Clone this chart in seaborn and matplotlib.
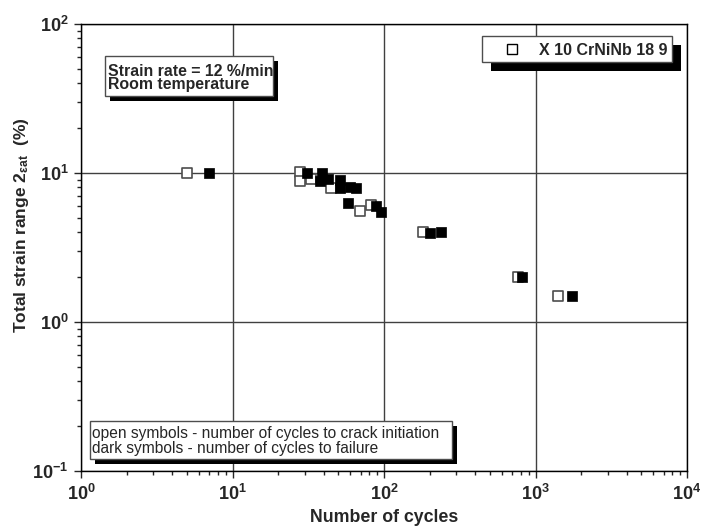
import matplotlib
matplotlib.use("Agg")
import matplotlib.pyplot as plt
from matplotlib.patches import Rectangle
from matplotlib.lines import Line2D
from matplotlib.ticker import LogLocator, FixedLocator, FixedFormatter
import pandas as pd
import seaborn as sns

sns.set_style("ticks")
plt.rcParams["font.family"] = ["Liberation Sans", "DejaVu Sans"]
plt.rcParams["mathtext.fontset"] = "custom"
plt.rcParams["mathtext.rm"] = "Liberation Sans"
plt.rcParams["mathtext.bf"] = "Liberation Sans:bold"
plt.rcParams["mathtext.it"] = "Liberation Sans:italic"

# cycles to crack initiation (open symbols)
cycles_open = [5, 28, 28, 33, 45, 69, 82, 181, 766, 1408]
strain_open = [10.0, 10.2, 8.8, 9.1, 7.9, 5.6, 6.1, 4.0, 2.0, 1.5]

# cycles to failure (dark symbols)
cycles_dark = [7, 31, 38, 39, 43, 51, 51, 60, 65, 58, 88, 95, 201, 238, 815, 1741]
strain_dark = [10.0, 10.0, 8.8, 10.0, 9.1, 9.0, 7.9, 8.0, 7.9, 6.3, 6.0, 5.5,
               3.95, 4.0, 2.0, 1.5]

decades = [0.1, 1, 10, 100]
x_decades = [1, 10, 100, 1000, 10000]
y_tick_labels = [r"$\mathbf{10^{-1}}$", r"$\mathbf{10^{0}}$", r"$\mathbf{10^{1}}$", r"$\mathbf{10^{2}}$"]
x_tick_labels = [r"$\mathbf{10^{0}}$", r"$\mathbf{10^{1}}$", r"$\mathbf{10^{2}}$",
                 r"$\mathbf{10^{3}}$", r"$\mathbf{10^{4}}$"]

df = pd.concat([
    pd.DataFrame({"cycles": cycles_open, "strain": strain_open, "kind": "open"}),
    pd.DataFrame({"cycles": cycles_dark, "strain": strain_dark, "kind": "dark"}),
])

W, H = 704, 529
fig = plt.figure(figsize=(W / 100, H / 100), dpi=100)
ax = fig.add_axes([81 / W, 1 - 471 / H, (687 - 81) / W, (471 - 24) / H])


def fx(px):
    return px / W


def fy(py):
    return 1 - py / H


ax.set_xscale("log")
ax.set_yscale("log")
ax.set_xlim(1, 10000)
ax.set_ylim(0.1, 100)

ax.grid(True, which="major", color="0.25", lw=1)
ax.set_axisbelow(True)

sns.scatterplot(data=df[df["kind"] == "open"], x="cycles", y="strain", ax=ax,
                marker="s", s=45, facecolor="white", edgecolor="0.3",
                linewidth=1.2, zorder=3, legend=False)
sns.scatterplot(data=df[df["kind"] == "dark"], x="cycles", y="strain", ax=ax,
                marker="s", s=45, color="black", edgecolor="black",
                linewidth=0.5, zorder=4, legend=False)

ax.xaxis.set_major_locator(FixedLocator(x_decades))
ax.xaxis.set_major_formatter(FixedFormatter(x_tick_labels))
ax.yaxis.set_major_locator(FixedLocator(decades))
ax.yaxis.set_major_formatter(FixedFormatter(y_tick_labels))
ax.xaxis.set_minor_locator(LogLocator(base=10, subs=range(2, 10), numticks=20))
ax.yaxis.set_minor_locator(LogLocator(base=10, subs=range(2, 10), numticks=20))
ax.xaxis.set_minor_formatter(FixedFormatter([]))
ax.yaxis.set_minor_formatter(FixedFormatter([]))
ax.tick_params(which="major", direction="out", length=5, width=1, labelsize=13, pad=4)
ax.tick_params(which="minor", direction="out", length=3, width=1)
for s in ax.spines.values():
    s.set_linewidth(1)
    s.set_color("black")

ax.set_xlabel("")
ax.set_ylabel("")
fig.text(fx(384), fy(517), "Number of cycles", ha="center", va="center",
         fontsize=12.8, fontweight="bold")
fig.text(fx(22), fy(225),
         r"Total strain range 2$\mathbf{_{ε}}$$\mathbf{_{at}}$  (%)",
         ha="center", va="center", rotation=90, fontsize=12.5, fontweight="bold")


def shadow_box(x0, y0, x1, y1, off):
    sh = Rectangle((fx(x0 + off), fy(y1 + off)), fx(x1 - x0), (y1 - y0) / H,
                   transform=fig.transFigure, facecolor="black",
                   edgecolor="none", zorder=5)
    bx = Rectangle((fx(x0), fy(y1)), fx(x1 - x0), (y1 - y0) / H,
                   transform=fig.transFigure, facecolor="white",
                   edgecolor="0.3", lw=1, zorder=6)
    fig.add_artist(sh)
    fig.add_artist(bx)
    return bx


# conditions box
b1 = shadow_box(105, 56, 273, 96, 5)
t1 = fig.text(fx(108), fy(89.5), "Strain rate = 12 %/min\nRoom temperature",
              ha="left", va="baseline", fontsize=11.4, fontweight="bold",
              linespacing=0.9, zorder=7)
t1.set_clip_path(b1)

# legend box
shadow_box(482, 36, 672, 62, 9)
fig.add_artist(Line2D([fx(512)], [fy(49)], transform=fig.transFigure, marker="s",
                      markersize=6.5, markerfacecolor="white",
                      markeredgecolor="black", markeredgewidth=1, zorder=7))
fig.text(fx(539), fy(55), "X 10 CrNiNb 18 9", ha="left", va="baseline",
         fontsize=11.5, fontweight="bold", zorder=7)

# symbol note box
shadow_box(90, 421, 452, 459, 5)
fig.text(fx(92), fy(453),
         "open symbols - number of cycles to crack initiation\n"
         "dark symbols - number of cycles to failure",
         ha="left", va="baseline", fontsize=11.2, linespacing=1.0, zorder=7)

fig.savefig("out.png", dpi=100)
